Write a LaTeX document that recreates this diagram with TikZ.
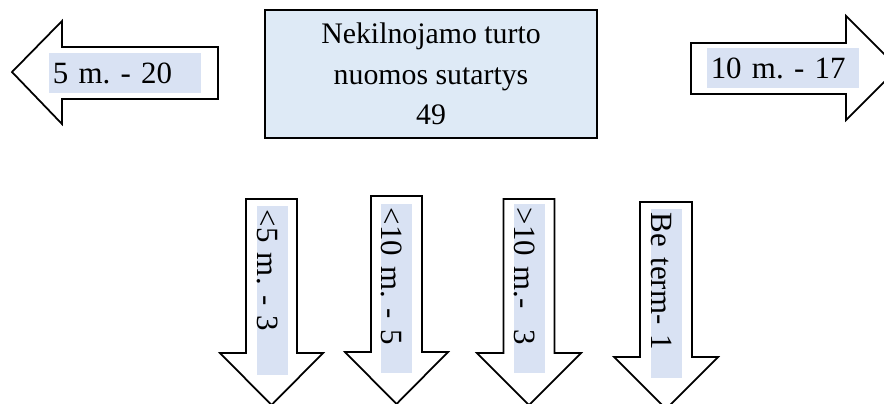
\documentclass[tikz,border=0pt]{standalone}
\usepackage{fontspec}
\setmainfont{Liberation Serif}
\usetikzlibrary{positioning}
\definecolor{boxblue}{HTML}{DEEAF6}
\definecolor{tagblue}{HTML}{D9E2F3}
\frenchspacing

\begin{document}
\begin{tikzpicture}[x=0.4528pt, y=-0.4528pt,
  big arrow/.style={draw=black, line width=0.8pt, fill=white, line join=miter},
  main box/.style={draw=black, line width=1.1pt, fill=boxblue, minimum width=150.3pt, minimum height=58pt, inner sep=0pt, align=center, font=\fontsize{13.5}{18.3}\selectfont},
  flat tag/.style={fill=tagblue, anchor=north west, inner xsep=1.5pt, inner ysep=0pt, text width=65.8pt, align=left, text height=13.6pt, text depth=4.5pt, font=\fontsize{14}{16}\selectfont},
  side tag/.style={fill=tagblue, rotate=-90, anchor=south west, inner xsep=1.5pt, inner ysep=0pt, text width=73.5pt, align=left, text height=14pt, text depth=0pt, font=\fontsize{14}{16}\selectfont}]
\useasboundingbox (0,0) rectangle (884,403);
\clip (0,0) rectangle (884,403);
% arrows
\draw[big arrow] (12,72) -- (62,21) -- (62,47) -- (218,47) -- (218,99) -- (62,99) -- (62,124) -- cycle;
\draw[big arrow] (898,68) -- (846,16) -- (846,43) -- (691,43) -- (691,94) -- (846,94) -- (846,120) -- cycle;
\draw[big arrow] (246,199) -- (297,199) -- (297,353) -- (323,353) -- (271.5,405) -- (220,353) -- (246,353) -- cycle;
\draw[big arrow] (371,196) -- (422,196) -- (422,352) -- (448,352) -- (396.5,404) -- (345,352) -- (371,352) -- cycle;
\draw[big arrow] (503.5,199) -- (554.5,199) -- (554.5,353) -- (581,353) -- (529,405) -- (477,353) -- (503.5,353) -- cycle;
\draw[big arrow] (640,202) -- (692,202) -- (692,357) -- (718,357) -- (666,409) -- (614,357) -- (640,357) -- cycle;
% texts
\node[main box] (contract) at (431,74) {Nekilnojamo turto\\nuomos sutartys\\49};
\node[flat tag] (left5) at (49,53) {5 m. - 20};
\node[flat tag] (right10) at (707,48) {10 m. - 17};
\node[side tag] (less5) at (257,206) {<5 m. - 3};
\node[side tag] (less10) at (381,204) {<10 m. - 5};
\node[side tag] (more10) at (514,204) {>10 m.-\ \ 3};
\node[side tag] (noterm) at (651,209) {Be term- 1};
\end{tikzpicture}
\end{document}
